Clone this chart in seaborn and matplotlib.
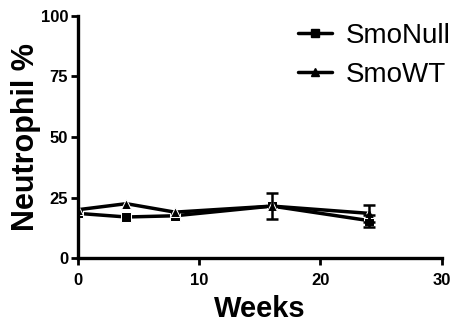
import pandas as pd
import matplotlib
matplotlib.use("Agg")
import matplotlib.pyplot as plt
from matplotlib.lines import Line2D
import seaborn as sns

weeks = [0, 4, 8, 16, 24]
smo_null = [18.5, 17.0, 17.5, 21.5, 15.5]
smo_null_err = [0.0, 0.0, 0.0, 5.3, 2.5]
smo_wt = [20.0, 22.5, 19.0, 21.5, 18.5]
smo_wt_err = [0.0, 0.0, 0.0, 0.0, 3.5]

df = pd.DataFrame({
    'Weeks': weeks * 2,
    'Neutrophil': smo_null + smo_wt,
    'Group': ['SmoNull'] * 5 + ['SmoWT'] * 5,
})

sns.set_style('ticks', {'axes.edgecolor': 'black', 'text.color': 'black',
                        'axes.labelcolor': 'black', 'xtick.color': 'black',
                        'ytick.color': 'black'})
plt.rcParams['font.family'] = ['Liberation Sans', 'DejaVu Sans']

fig = plt.figure(figsize=(4.55, 3.31), dpi=100)
ax = fig.add_axes([0.171, 0.22, 0.80, 0.732])

sns.lineplot(data=df, x='Weeks', y='Neutrophil', hue='Group', style='Group',
             markers={'SmoNull': 's', 'SmoWT': '^'}, dashes=False,
             palette={'SmoNull': 'black', 'SmoWT': 'black'},
             linewidth=2.5, markersize=7, legend=False, ax=ax)

# only draw the bars that show up in the original
for y, e in [(smo_null, smo_null_err), (smo_wt, smo_wt_err)]:
    keep = [i for i in range(len(weeks)) if e[i] > 0]
    ax.errorbar([weeks[i] for i in keep], [y[i] for i in keep],
                yerr=[e[i] for i in keep], fmt='none', ecolor='black',
                elinewidth=1.8, capsize=4, capthick=1.8)

ax.set_xlim(0, 30)
ax.set_ylim(0, 100)
ax.set_xticks([0, 10, 20, 30])
ax.set_yticks([0, 25, 50, 75, 100])
ax.set_xlabel('Weeks', fontsize=21, fontweight='bold', labelpad=5)
ax.set_ylabel('Neutrophil %', fontsize=22, fontweight='bold', labelpad=0)
for lbl in ax.get_xticklabels() + ax.get_yticklabels():
    lbl.set_fontweight('bold')
ax.tick_params(labelsize=12, width=2, length=5, color='black',
               labelcolor='black', pad=2)
ax.tick_params(axis='x', pad=6)
for s in ['left', 'bottom']:
    ax.spines[s].set_linewidth(2.4)
sns.despine(ax=ax)

handles = [Line2D([], [], color='black', lw=2.5, marker='s', markersize=6),
           Line2D([], [], color='black', lw=2.5, marker='^', markersize=6)]
fig.legend(handles, ['SmoNull', 'SmoWT'], loc='upper right',
           bbox_to_anchor=(0.99, 0.93), frameon=False, fontsize=20,
           handlelength=1.2, handletextpad=0.5, labelspacing=0.45,
           borderpad=0, borderaxespad=0, labelcolor='black')

fig.savefig('out.png', dpi=100)
